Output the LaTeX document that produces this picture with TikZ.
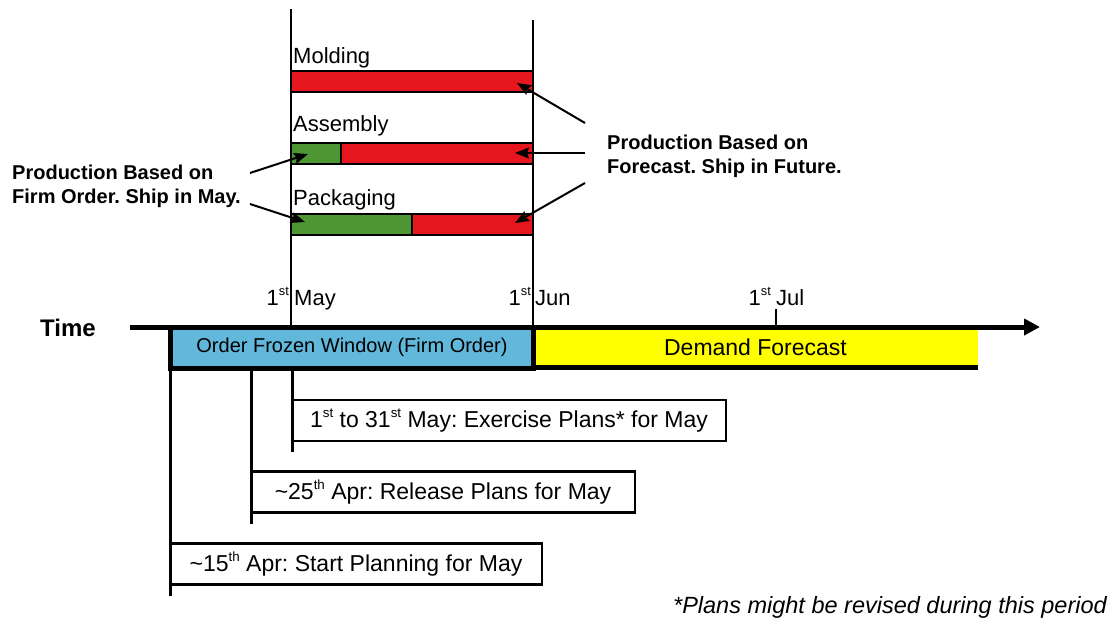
\documentclass[tikz,border=0pt]{standalone}
\usepackage{fontspec}
\setmainfont{Liberation Sans}
\usetikzlibrary{arrows.meta}
\definecolor{barred}{RGB}{230,22,30}
\definecolor{bargreen}{RGB}{78,150,52}
\definecolor{frozenblue}{RGB}{98,184,218}
\definecolor{fcyellow}{RGB}{255,255,0}
\newcommand{\supx}[1]{\raisebox{0.42em}{\fontsize{0.58em}{0.58em}\selectfont #1}}
\tikzset{
  fs/.style={font=\fontsize{#1}{#1}\selectfont},
  bar/.style={draw, line width=2pt, inner sep=0pt, outer sep=0pt, minimum height=21pt, anchor=north west},
  lbl/.style={inner sep=0pt, fs=22},
  note/.style={inner sep=0pt, font=\fontsize{20}{24}\selectfont\bfseries, align=left},
  callout/.style={line width=2pt, -{Stealth[length=14pt,width=11pt,inset=2pt]}},
  planbox/.style={draw, line width=2.5pt, inner sep=0pt, outer sep=0pt, minimum height=41pt, anchor=north west, fs=23},
  vline/.style={line width=3pt},
  thinline/.style={line width=1.2pt},
}
\begin{document}
\frenchspacing
\begin{tikzpicture}[x=1pt,y=-1pt]
\useasboundingbox (0,0) rectangle (1119,621);

% top vertical month lines
\coordinate (mayTop) at (291,9);
\coordinate (mayAxis) at (291,327);
\coordinate (junTop) at (533,20);
\coordinate (junAxis) at (533,327);
\draw[thinline] (mayTop) -- (mayAxis);
\draw[thinline] (junTop) -- (junAxis);

% process labels
\node[lbl, anchor=base west] (molding) at (293,63) {Molding};
\node[lbl, anchor=base west] (assembly) at (293,131) {Assembly};
\node[lbl, anchor=base west] (packaging) at (293,205) {Packaging};

% bars
\node[bar, fill=barred, minimum width=242pt] (molBar) at (291,71) {};
\node[bar, fill=bargreen, minimum width=50pt] (asmGreen) at (291,143) {};
\node[bar, fill=barred, minimum width=192pt] (asmRed) at (341,143) {};
\node[bar, fill=bargreen, minimum width=121pt] (pkgGreen) at (291,214) {};
\node[bar, fill=barred, minimum width=121pt] (pkgRed) at (412,214) {};

% callout texts (base anchor = last line)
\node[note, anchor=base west] (firmNote) at (12,203) {Production Based on\\Firm Order. Ship in May.};
\node[note, anchor=base west] (fcNote) at (607,173) {Production Based on\\Forecast. Ship in Future.};

% callout arrows
\coordinate (fA) at (250,173);
\coordinate (fB) at (250,204);
\coordinate (tA) at (308,154);
\coordinate (tB) at (305,222);
\draw[callout] (fA) -- (tA);
\draw[callout] (fB) -- (tB);
\coordinate (rA) at (585,123);
\coordinate (rB) at (585,153);
\coordinate (rC) at (585,183);
\coordinate (uA) at (517,83);
\coordinate (uB) at (515,153);
\coordinate (uC) at (515,223);
\draw[callout] (rA) -- (uA);
\draw[callout] (rB) -- (uB);
\draw[callout] (rC) -- (uC);

% date labels
\node[lbl, anchor=base east] (mayDay) at (289,305) {1\supx{st}};
\node[lbl, anchor=base west] (mayName) at (294,305) {May};
\node[lbl, anchor=base east] (junDay) at (531,305) {1\supx{st}};
\node[lbl, anchor=base west] (junName) at (535,305) {Jun};
\node[lbl, anchor=base east] (julDay) at (771,305) {1\supx{st}};
\node[lbl, anchor=base west] (julName) at (776,305) {Jul};
\coordinate (julTop) at (776,309);
\coordinate (julAxis) at (776,327);
\draw[thinline] (julTop) -- (julAxis);

% time axis
\node[inner sep=0pt, anchor=base west, font=\fontsize{24}{24}\selectfont\bfseries] (timeLbl) at (40,336) {Time};

% windows
\node[fill=fcyellow, inner sep=0pt, outer sep=0pt, minimum width=445pt, minimum height=40pt, anchor=north west, fs=23] (forecast) at (533,327) {Demand Forecast};
\draw[line width=5pt] (forecast.south west) -- (forecast.south east);
\node[draw, fill=frozenblue, line width=5pt, inner sep=0pt, outer sep=0pt, minimum width=363pt, minimum height=41pt, anchor=north west, fs=20] (frozen) at (170.5,327) {Order Frozen Window (Firm Order)};

\coordinate (axisStart) at (130,327);
\coordinate (axisEnd) at (1040,327);
\draw[line width=5pt, -{Triangle[length=16pt,width=16pt]}] (axisStart) -- (axisEnd);

% planning lines
\coordinate (l15top) at (170,368);
\coordinate (l15bot) at (170,596);
\coordinate (l25top) at (251,368);
\coordinate (l25bot) at (251,524);
\coordinate (l1top) at (292,368);
\coordinate (l1bot) at (292,452);
\draw[vline] (l15top) -- (l15bot);
\draw[vline] (l25top) -- (l25bot);
\draw[vline] (l1top) -- (l1bot);

% plan boxes
\node[planbox, minimum width=434pt] (exercise) at (292,400) {1\supx{st} to 31\supx{st} May: Exercise Plans* for May};
\node[planbox, minimum width=384pt] (release) at (251,471.5) {\textasciitilde25\supx{th} Apr: Release Plans for May};
\node[planbox, minimum width=372pt] (start) at (170,543.5) {\textasciitilde15\supx{th} Apr: Start Planning for May};

% footnote
\node[inner sep=0pt, anchor=base east, font=\fontsize{23.5}{23.5}\selectfont\itshape] (footnote) at (1107,613) {*Plans might be revised during this period};
\end{tikzpicture}
\end{document}
